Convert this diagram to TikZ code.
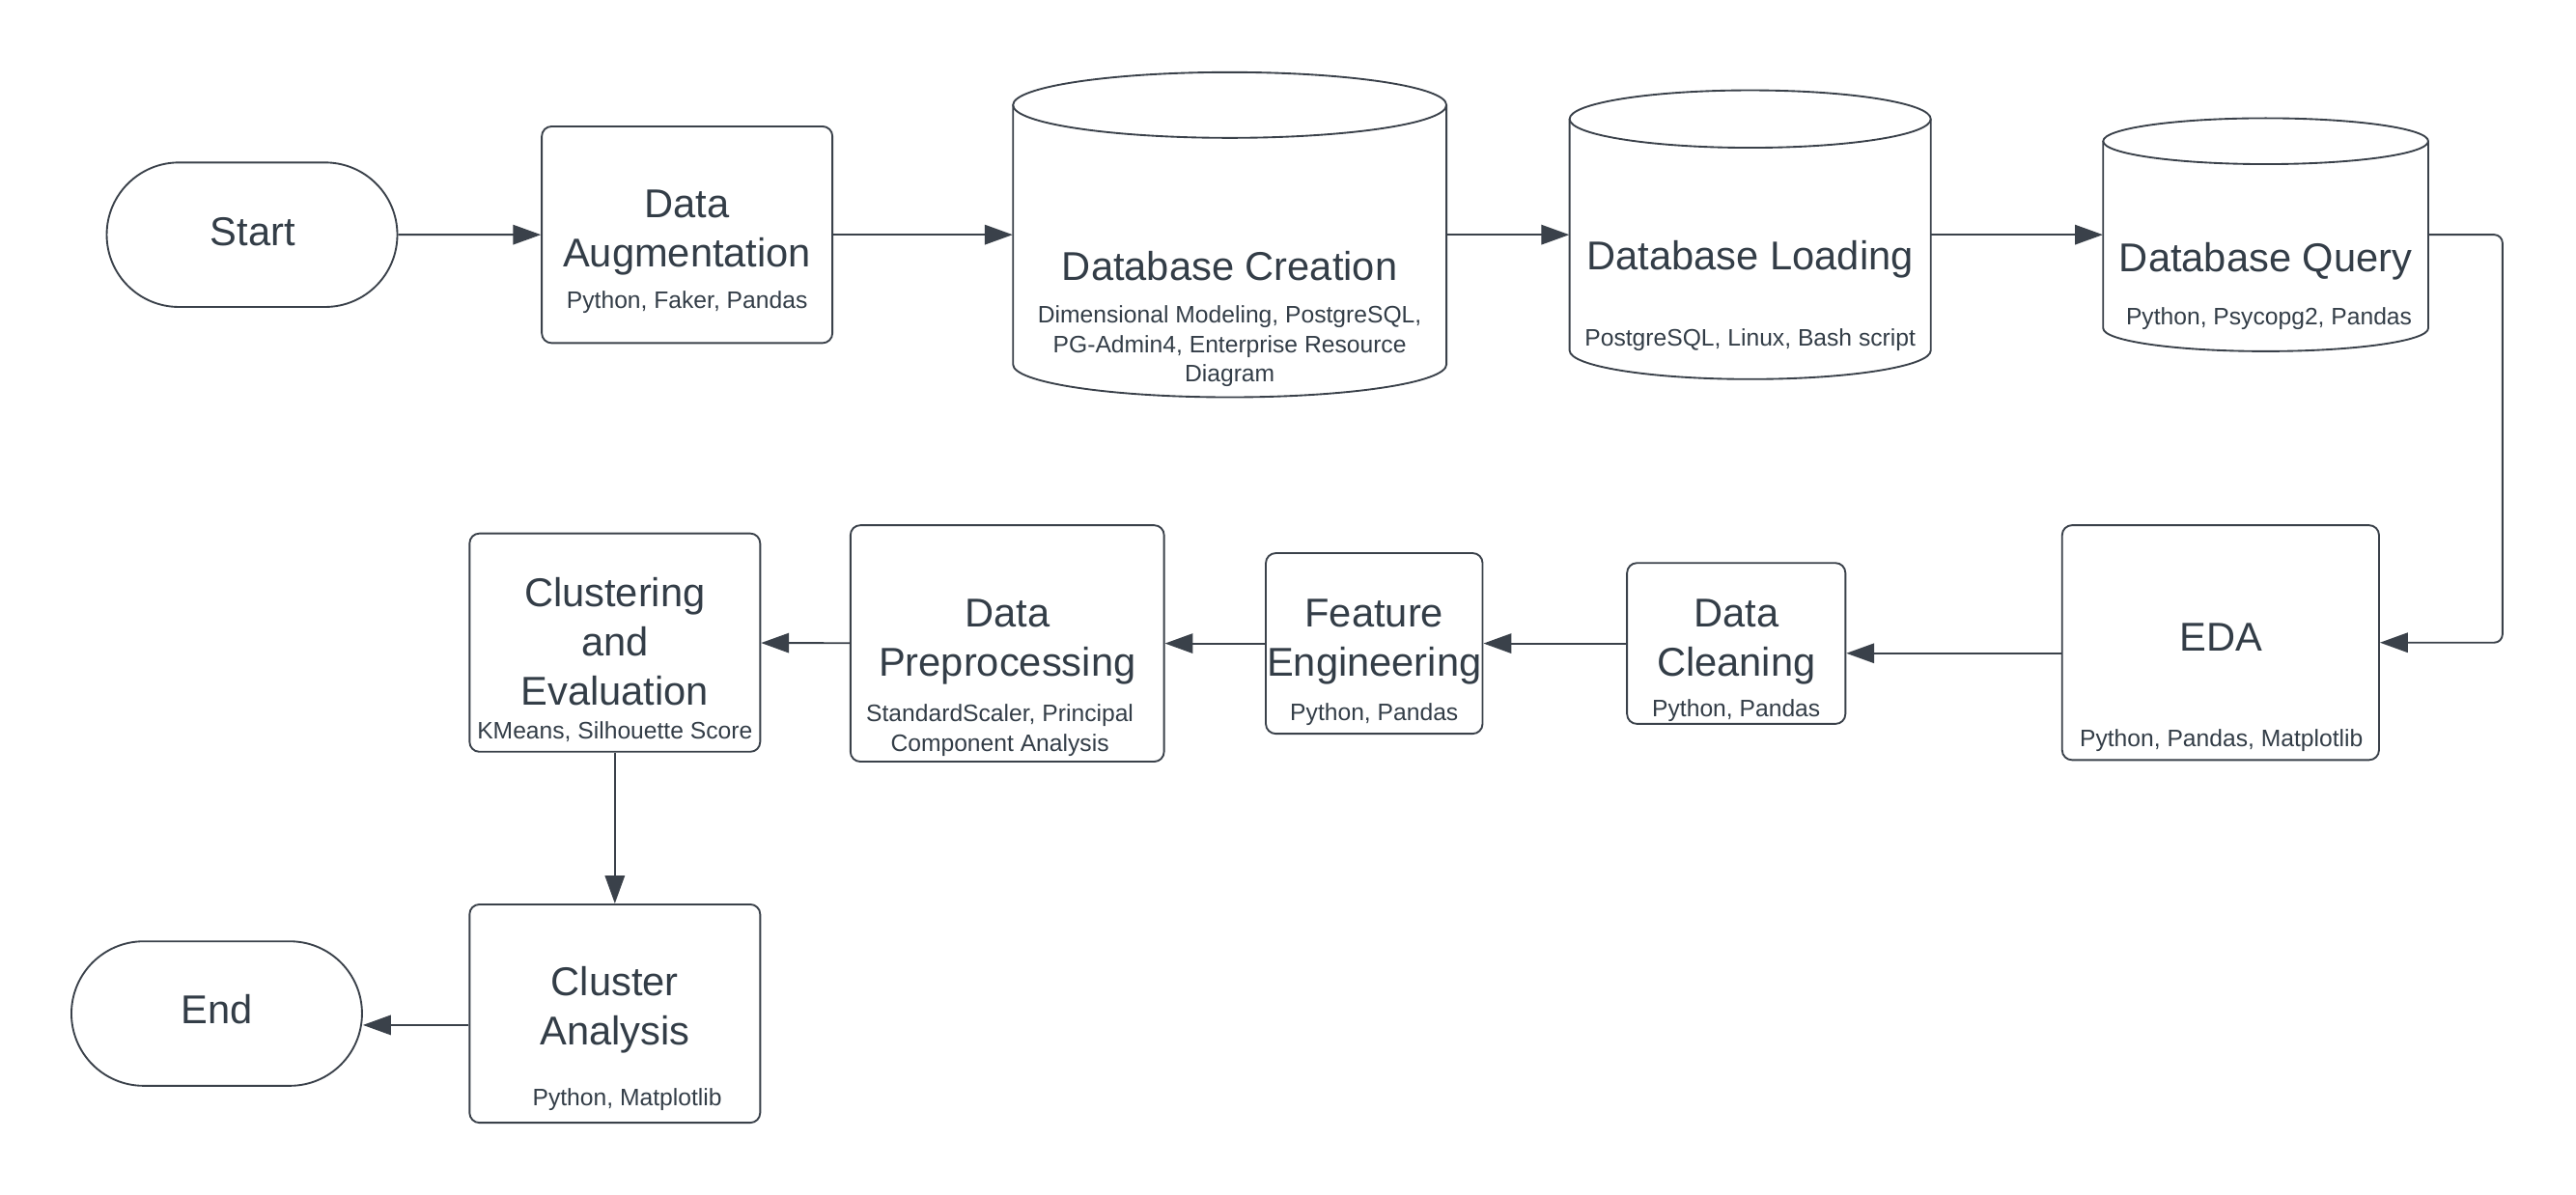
\documentclass[tikz,border=0pt]{standalone}
\usepackage{fontspec}
\setmainfont{Liberation Sans}
\usetikzlibrary{arrows.meta,shapes.misc}

\definecolor{linegray}{HTML}{3A414A}
\definecolor{textgray}{HTML}{333D47}

\newcommand{\bigtext}{\fontsize{24.5}{30}\selectfont}
\newcommand{\smalltext}{\fontsize{14.5}{18}\selectfont}

\tikzset{
  stepline/.style={draw=linegray, line width=1.1pt},
  arrow/.style={stepline, -{Triangle[length=17pt,width=12pt]}},
  box/.style={stepline, rounded corners=6pt, inner sep=0pt},
  terminal/.style={stepline, rounded rectangle, inner sep=0pt, minimum width=177pt, minimum height=88pt},
  dbnode/.style={inner sep=0pt},
  title/.style={text=textgray, font=\bigtext, align=center, inner sep=0pt},
  tools/.style={text=textgray, font=\smalltext, align=center, inner sep=0pt},
}

% left, right, top, bottom, ry
\newcommand{\dbdrum}[5]{%
  \draw[stepline] ({(#1+#2)/2},{#3+#5}) ellipse [x radius={(#2-#1)/2}, y radius=#5];
  \draw[stepline] (#1,{#3+#5}) -- (#1,{#4-#5})
    arc [start angle=180, end angle=0, x radius={(#2-#1)/2}, y radius=#5] -- (#2,{#3+#5});
}

\begin{document}
\begin{tikzpicture}[x=1pt, y=-1pt]
  \useasboundingbox (0,0) rectangle (1569,728);

  \node[terminal] (start) at (153.5,143) {};
  \node[box, minimum width=177pt, minimum height=132pt] (aug) at (418.5,143) {};
  \node[dbnode, minimum width=264pt, minimum height=198pt] (create) at (749,143) {};
  \node[dbnode, minimum width=220pt, minimum height=176pt] (load) at (1066,143) {};
  \node[dbnode, minimum width=198pt, minimum height=142pt] (query) at (1380,143) {};
  \dbdrum{617}{881}{44}{242}{20}
  \dbdrum{956}{1176}{55}{231}{17.5}
  \dbdrum{1281}{1479}{72}{214}{14}

  \node[box, minimum width=193pt, minimum height=143pt] (eda) at (1352.5,391.5) {};
  \node[box, minimum width=133pt, minimum height=98pt] (clean) at (1057.5,392) {};
  \node[box, minimum width=132pt, minimum height=110pt] (feat) at (837,392) {};
  \node[box, minimum width=191pt, minimum height=144pt] (prep) at (613.5,392) {};
  \node[box, minimum width=177pt, minimum height=133pt] (clus) at (374.5,391.5) {};
  \node[box, minimum width=177pt, minimum height=133pt] (anal) at (374.5,617.5) {};
  \node[terminal] (finish) at (132,617.5) {};

  \node[title] at (154,141) {Start};
  \node[title] at (418.5,142) {Data\\Augmentation};
  \node[tools] at (418.5,184) {Python, Faker, Pandas};
  \node[title] at (749,162) {Database Creation};
  \node[tools] at (749,211) {Dimensional Modeling, PostgreSQL,\\PG-Admin4, Enterprise Resource\\Diagram};
  \node[title] at (1066,158) {Database Loading};
  \node[tools] at (1066,207) {PostgreSQL, Linux, Bash script};
  \node[title] at (1380,159) {Database Query};
  \node[tools] at (1382,194) {Python, Psycopg2, Pandas};
  \node[title] at (1353,388) {EDA};
  \node[tools] at (1353,451) {Python, Pandas, Matplotlib};
  \node[title] at (1057.5,391) {Data\\Cleaning};
  \node[tools] at (1057.5,433) {Python, Pandas};
  \node[title] at (837,391) {Feature\\Engineering};
  \node[tools] at (837,435) {Python, Pandas};
  \node[title] at (613.5,391) {Data\\Preprocessing};
  \node[tools] at (609,445) {StandardScaler, Principal\\Component Analysis};
  \node[title] at (374.5,391) {Clustering\\and\\Evaluation};
  \node[tools] at (374.5,446) {KMeans, Silhouette Score};
  \node[title] at (374.5,615) {Cluster\\Analysis};
  \node[tools] at (382,670) {Python, Matplotlib};
  \node[title] at (132,615) {End};

  \draw[arrow] (start) -- (aug);
  \draw[arrow] (aug) -- (create);
  \draw[arrow] (create) -- (load);
  \draw[arrow] (load) -- (query);
  \draw[arrow, rounded corners=5pt] (query.east) -- ++(45,0) |- (eda.east);
  \draw[arrow] ([yshift=-6.5pt]eda.west) -- ([yshift=-6pt]clean.east);
  \draw[arrow] (clean) -- (feat);
  \draw[arrow] (feat) -- (prep);
  \draw[arrow] (prep) -- (clus);
  \draw[arrow] (clus) -- (anal);
  \draw[arrow] ([yshift=-7pt]anal.west) -- ([yshift=-7pt]finish.east);
\end{tikzpicture}
\end{document}
